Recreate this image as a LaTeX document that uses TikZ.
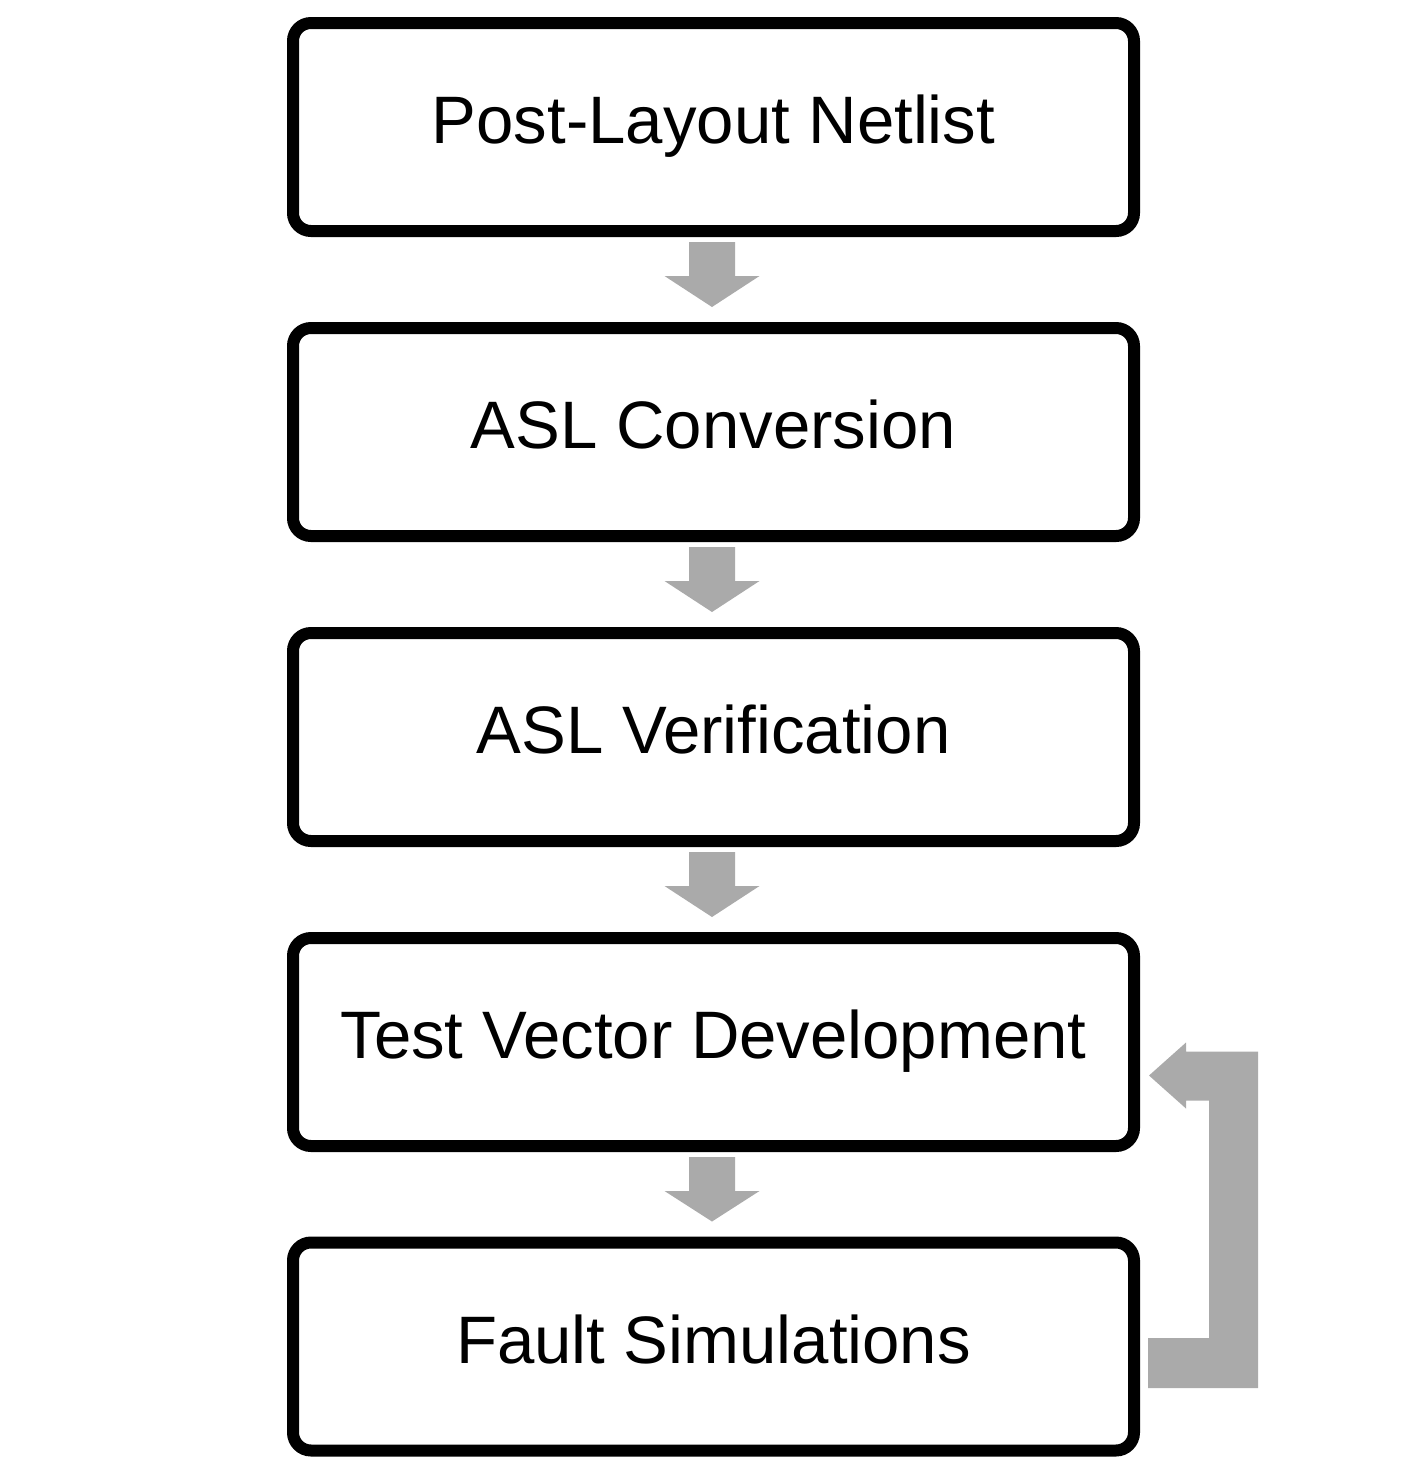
\documentclass[tikz,border=0pt]{standalone}
\usepackage{fontspec}
\setmainfont{Liberation Sans}
\usetikzlibrary{calc}
\definecolor{flowgray}{RGB}{170,170,170}
\tikzset{
  stepbox/.style={draw=black, line width=0.12cm, rounded corners=0.18cm,
    minimum width=8.41cm, minimum height=2.08cm, inner sep=0pt,
    text height=0.5cm, text depth=0.17cm,
    font=\fontsize{19.1}{23}\selectfont},
  blockarrow/.style={fill=flowgray, draw=none}
}
\begin{document}
\begin{tikzpicture}
\useasboundingbox (0,0) rectangle (14.25,-14.83);
\node[stepbox] (b1) at (7.135,-1.27)  {Post-Layout Netlist};
\node[stepbox] (b2) at (7.135,-4.32)  {ASL Conversion};
\node[stepbox] (b3) at (7.135,-7.37)  {ASL Verification};
\node[stepbox] (b4) at (7.135,-10.42) {Test Vector Development};
\node[stepbox] (b5) at (7.135,-13.465){Fault Simulations};
\foreach \a/\b in {b1/b2,b2/b3,b3/b4,b4/b5}{
  \coordinate (top\a) at ($(\a.south)+(-0.015,-0.05)$);
  \fill[blockarrow] ($(top\a)+(-0.23,0)$) -- ($(top\a)+(0.23,0)$)
    -- ($(top\a)+(0.23,-0.34)$) -- ($(top\a)+(0.475,-0.34)$)
    -- ($(\b.north)+(-0.015,0.15)$)
    -- ($(top\a)+(-0.475,-0.34)$) -- ($(top\a)+(-0.23,-0.34)$) -- cycle;
}
% feedback arrow from Fault Simulations back to Test Vector Development
\coordinate (fbstart) at ($(b5.east)+(0.08,-0.165)$);
\coordinate (fbtip) at ($(b4.east)+(0.09,-0.335)$);
\fill[blockarrow] ($(fbstart)+(0,-0.25)$) -- ($(fbstart)+(1.10,-0.25)$)
  -- ($(fbtip)+(1.09,0.24)$) -- ($(fbtip)+(0.37,0.24)$)
  -- ($(fbtip)+(0.37,0.33)$) -- (fbtip)
  -- ($(fbtip)+(0.37,-0.33)$) -- ($(fbtip)+(0.37,-0.25)$)
  -- ($(fbtip)+(0.60,-0.25)$) -- ($(fbstart)+(0.61,0.25)$)
  -- ($(fbstart)+(0,0.25)$) -- cycle;
\end{tikzpicture}
\end{document}
